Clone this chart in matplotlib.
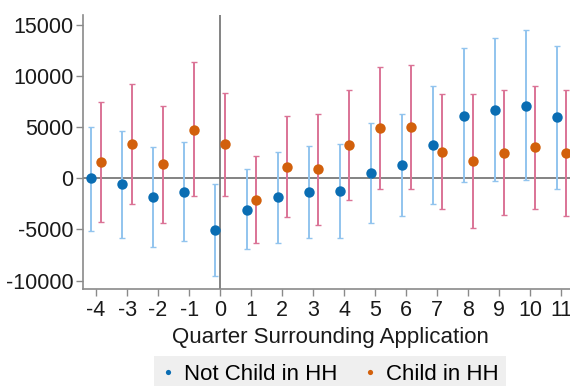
import matplotlib
matplotlib.use("Agg")
import matplotlib.pyplot as plt
import numpy as np

quarters = [-4, -3, -2, -1, 0, 1, 2, 3, 4, 5, 6, 7, 8, 9, 10, 11]

not_child = [0, -590, -1800, -1310, -5060, -3070, -1800, -1310, -1210, 550, 1300, 3300, 6130, 6680, 7110, 5990]
not_child_hi = [5070, 4600, 3100, 3560, -590, 880, 2600, 3160, 3390, 5410, 6330, 9030, 12790, 13730, 14540, 12990]
not_child_lo = [-5150, -5800, -6700, -6140, -9560, -6900, -6300, -5800, -5800, -4370, -3690, -2510, -400, -270, -170, -1000]

child = [1630, 3360, 1400, 4760, 3360, -2120, 1110, 910, 3300, 4920, 4990, 2600, 1730, 2510, 3050, 2450]
child_hi = [7470, 9240, 7110, 11380, 8380, 2150, 6070, 6330, 8680, 10860, 11090, 8220, 8220, 8680, 9070, 8610]
child_lo = [-4270, -2520, -4400, -1770, -1730, -6330, -3790, -4530, -2120, -1000, -1080, -3020, -4860, -3620, -3020, -3650]

yticks = [-10000, -5000, 0, 5000, 10000, 15000]
xlabel = "Quarter Surrounding Application"
labels = ["Not Child in HH", "Child in HH"]

plt.rcParams['font.family'] = ['Liberation Sans', 'DejaVu Sans']
plt.rcParams['axes.unicode_minus'] = False

fig = plt.figure(figsize=(5.7, 3.86), dpi=100)
ax = fig.add_axes([83/570, 97/386, (577-83)/570, (289-15)/386])

x = np.array(quarters, dtype=float)
off = 0.15
nc = np.array(not_child); c = np.array(child)
ax.axhline(0, color='#6e6e6e', lw=1.2, zorder=1)
ax.axvline(0, color='#6e6e6e', lw=1.2, zorder=1)

ax.errorbar(x - off, nc, yerr=[nc - np.array(not_child_lo), np.array(not_child_hi) - nc],
            fmt='none', ecolor='#92c4ee', elinewidth=1.4, capsize=2, capthick=1.0, zorder=2)
ax.errorbar(x + off, c, yerr=[c - np.array(child_lo), np.array(child_hi) - c],
            fmt='none', ecolor='#db7396', elinewidth=1.4, capsize=2, capthick=1.0, zorder=2)
ax.plot(x - off, nc, 'o', color='#0a6db3', ms=7.5, mec='none', zorder=3, label=labels[0])
ax.plot(x + off, c, 'o', color='#d2600c', ms=7.5, mec='none', zorder=3, label=labels[1])

ax.set_xlim(-4.42, 11.5)
ax.set_ylim(-10830, 15980)
ax.set_xticks(quarters)
ax.set_yticks(yticks)
ax.tick_params(axis='both', labelsize=15.5, colors='#1a1a1a', length=5, width=1, direction='out')
ax.tick_params(axis='both', color='#8a8a8a')
ax.tick_params(axis='y', pad=2)
ax.tick_params(axis='x', pad=3)
for s in ['top', 'right']:
    ax.spines[s].set_visible(False)
for s in ['left', 'bottom']:
    ax.spines[s].set_color('#8a8a8a')
    ax.spines[s].set_linewidth(1.2)
ax.set_xlabel(xlabel, fontsize=16, color='#1a1a1a', labelpad=4)

leg = ax.legend(loc='upper center', bbox_to_anchor=(0.5, -0.205), ncol=2, frameon=True,
                fontsize=16, markerscale=0.5, handlelength=0.6, handletextpad=0.4,
                columnspacing=1.2, borderpad=0.35, fancybox=False)
leg.get_frame().set_facecolor('#ebebeb')
leg.get_frame().set_edgecolor('none')

fig.savefig('out.png', dpi=100)
